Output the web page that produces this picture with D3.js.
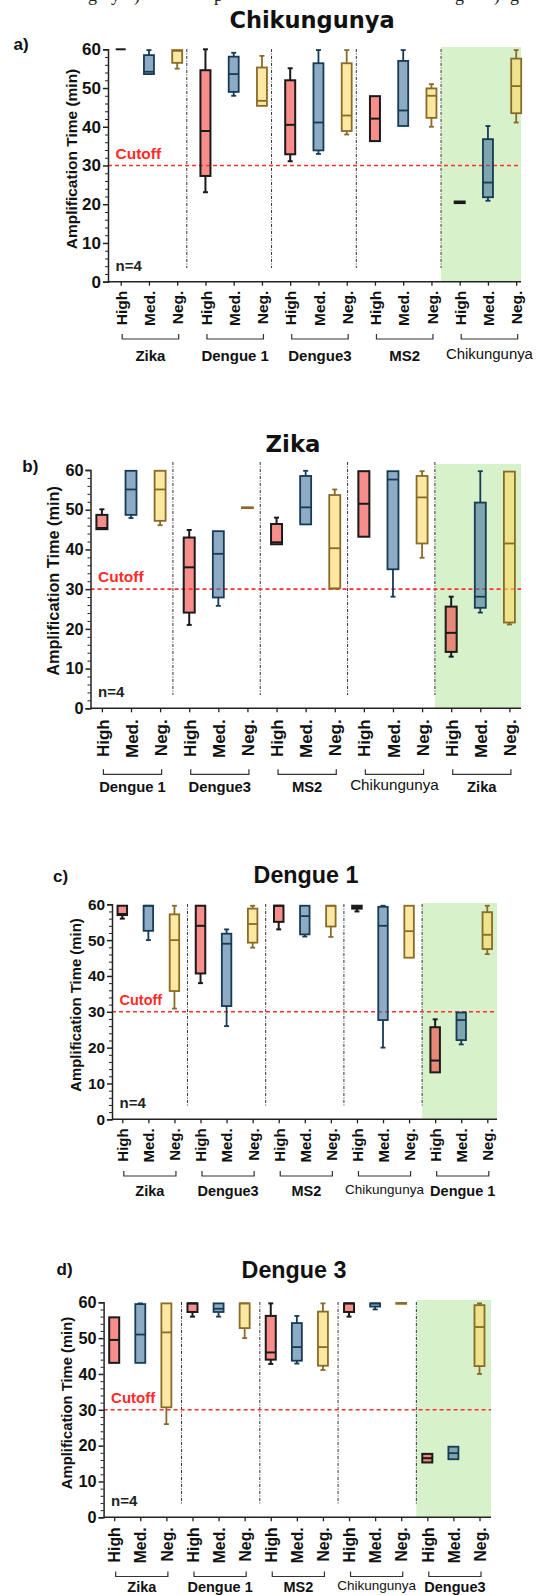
<!DOCTYPE html>
<html><head><meta charset="utf-8">
<script src="https://cdn.jsdelivr.net/npm/d3@7"></script>
<style>body{margin:0;background:#fff} svg{display:block}</style>
</head><body><svg id="c" width="538" height="1595"></svg>
<script>
// ---------- DATA ----------
const levels = ["High", "Med.", "Neg."];
const yTicks = [0, 10, 20, 30, 40, 50, 60];
const yMinorTicks = [2,4,6,8,12,14,16,18,22,24,26,28,32,34,36,38,42,44,46,48,52,54,56,58];
const cutoffValue = 30;
const nLabel = "n=4";
const panelTitles = ["Chikungunya", "Zika", "Dengue 1", "Dengue 3"];
const panelLetters = ["a)", "b)", "c)", "d)"];

// each box: [min, q1, median, q3, max]  (minutes)
const groupsA = ["Zika", "Dengue 1", "Dengue3", "MS2", "Chikungunya"];
const boxesA = [
  [60, 60, 60, 60, 60],
  [53.6, 53.6, 54.2, 58.5, 59.8],
  [55.0, 56.5, 59.6, 59.8, 59.8],
  [23.1, 27.3, 38.9, 54.6, 60],
  [48.0, 49.0, 53.6, 58.1, 59.1],
  [45.4, 45.4, 46.7, 55.3, 58.3],
  [31.1, 32.9, 40.5, 52.0, 55.1],
  [33.0, 33.9, 41.1, 56.4, 59.8],
  [38.0, 38.9, 42.9, 56.4, 59.8],
  [36.3, 36.3, 42.1, 47.9, 47.9],
  [40.2, 40.2, 44.2, 57.0, 59.8],
  [40.0, 42.3, 48.0, 49.9, 51.0],
  [20.3, 20.3, 20.5, 20.7, 20.7],
  [20.9, 21.8, 25.6, 36.8, 40.2],
  [41.1, 43.5, 50.5, 57.6, 59.8]
];

const groupsB = ["Dengue 1", "Dengue3", "MS2", "Chikungunya", "Zika"];
const boxesB = [
  [45.1, 45.1, 45.4, 48.7, 50.1],
  [47.9, 48.7, 55.1, 59.8, 59.8],
  [46.1, 47.2, 55.1, 59.8, 59.8],
  [21.0, 24.1, 35.5, 43.0, 44.9],
  [25.8, 27.9, 38.9, 44.6, 44.6],
  [50.4, 50.4, 50.5, 50.6, 50.6],
  [41.3, 41.3, 41.8, 46.4, 48.0],
  [46.3, 46.3, 50.6, 58.5, 59.8],
  [30.1, 30.2, 40.3, 53.7, 55.1],
  [43.2, 43.2, 51.5, 59.7, 59.7],
  [28.1, 35.0, 57.6, 59.7, 59.7],
  [37.9, 41.5, 53.1, 58.5, 59.7],
  [13.0, 14.2, 19.0, 25.6, 28.1],
  [24.1, 25.3, 28.1, 51.8, 59.7],
  [21.1, 21.6, 41.5, 59.6, 59.6]
];

const groupsC = ["Zika", "Dengue3", "MS2", "Chikungunya", "Dengue 1"];
const boxesC = [
  [56.0, 57.0, 57.3, 59.6, 59.6],
  [50.0, 52.6, 59.6, 59.6, 59.6],
  [30.9, 35.8, 50.0, 57.2, 59.6],
  [38.0, 40.7, 54.0, 59.6, 59.6],
  [26.0, 31.6, 49.0, 51.8, 53.0],
  [47.9, 49.3, 54.5, 58.8, 59.6],
  [53.0, 55.1, 59.6, 59.6, 59.6],
  [51.0, 51.6, 56.7, 59.6, 59.6],
  [50.9, 53.8, 59.6, 59.6, 59.6],
  [58.0, 58.8, 59.2, 59.6, 59.6],
  [20.0, 27.7, 54.0, 59.3, 59.6],
  [45.1, 45.1, 52.5, 59.6, 59.6],
  [13.1, 13.1, 16.4, 25.7, 27.9],
  [20.9, 22.1, 27.7, 29.8, 29.8],
  [46.1, 47.5, 51.5, 57.8, 59.6]
];

const groupsD = ["Zika", "Dengue 1", "MS2", "Chikungunya", "Dengue3"];
const boxesD = [
  [43.1, 43.1, 49.5, 55.8, 55.8],
  [43.1, 43.1, 51.0, 59.5, 59.7],
  [26.0, 30.7, 51.6, 59.7, 59.7],
  [56.0, 57.3, 59.7, 59.7, 59.7],
  [56.0, 57.3, 58.2, 59.7, 59.7],
  [50.0, 52.8, 59.7, 59.7, 59.7],
  [42.8, 44.0, 46.0, 56.2, 59.7],
  [42.9, 43.7, 47.5, 54.2, 56.2],
  [41.1, 42.3, 47.5, 57.4, 59.7],
  [56.0, 57.3, 59.7, 59.7, 59.7],
  [58.0, 58.8, 59.7, 59.7, 59.7],
  [59.6, 59.6, 59.7, 59.8, 59.8],
  [15.3, 15.3, 16.5, 17.7, 17.7],
  [16.2, 16.2, 17.9, 19.7, 19.7],
  [40.0, 42.2, 53.1, 59.2, 59.7]
];

// ---------- STYLE / LAYOUT ----------
const levelStyle = {
  "High": {fill: "#f2423f", stroke: "#1a1a1a"},
  "Med.": {fill: "#41739d", stroke: "#173a55"},
  "Neg.": {fill: "#fad860", stroke: "#8a6a28"}
};
const fillOpacity = 0.6;
const SANS = "'Liberation Sans', Arial, sans-serif";

const layout = [
  {groups: groupsA, boxes: boxesA, axisX: 108, right: 521, xFirst: 120.7, xLast: 516.2, yTop: 49.3, yBot: 281.7,
   sepFrac: 0.34, sepTop: 49, sepBot: 268, greenTop: 47,
   titleX: 312, titleY: 28, titleFont: "'DejaVu Sans', sans-serif", titleSize: 22.5,
   letterX: 13.5, letterY: 50, ylabX: 77, ylabY: 159, ylabSize: 15.5, tickSize: 17, xlabSize: 15.5, xlabOff: 9,
   bracketY: 339, groupY: 361, groupSize: 15, chikSize: 14.9, boxW: 10, cutSize: 15.5},
  {groups: groupsB, boxes: boxesB, axisX: 90.5, right: 521, xFirst: 101.9, xLast: 509.4, yTop: 470, yBot: 708.3,
   sepFrac: 0.44, sepTop: 462, sepBot: 695, greenTop: 464,
   titleX: 293, titleY: 451.7, titleFont: "'DejaVu Sans', sans-serif", titleSize: 22.8,
   letterX: 22.3, letterY: 472, ylabX: 58.5, ylabY: 581, ylabSize: 16.3, tickSize: 16.3, xlabSize: 17, xlabOff: 11,
   bracketY: 774.3, groupY: 792, groupSize: 14.8, chikSize: 15.2, boxW: 11, cutSize: 15.5},
  {groups: groupsC, boxes: boxesC, axisX: 112, right: 497, xFirst: 122.3, xLast: 487.3, yTop: 904.3, yBot: 1119.3,
   sepFrac: 0.5, sepTop: 904, sepBot: 1107, greenTop: 903,
   titleX: 306, titleY: 882.7, titleFont: SANS, titleSize: 23.3,
   letterX: 53, letterY: 882, ylabX: 80.5, ylabY: 1005, ylabSize: 14.9, tickSize: 15.4, xlabSize: 15, xlabOff: 9,
   bracketY: 1176, groupY: 1196, groupSize: 14.5, chikSize: 13.5, boxW: 9.5, cutSize: 14.5},
  {groups: groupsD, boxes: boxesD, axisX: 103.6, right: 491, xFirst: 114.2, xLast: 479.5, yTop: 1302.3, yBot: 1517.3,
   sepFrac: 0.58, sepTop: 1302, sepBot: 1505, greenTop: 1300,
   titleX: 294, titleY: 1277.7, titleFont: SANS, titleSize: 23.3,
   letterX: 56.6, letterY: 1275, ylabX: 72, ylabY: 1403, ylabSize: 14.8, tickSize: 16.3, xlabSize: 15.8, xlabOff: 10,
   bracketY: 1576.5, groupY: 1592, groupSize: 14.5, chikSize: 13.5, boxW: 10, cutSize: 15}
];

const svg = d3.select("#c");

// partial line of text cut off at the top of the image
const topText = svg.append("g").attr("font-family", "'Liberation Serif', serif").attr("font-size", 18).attr("fill", "#222");
[["g", 88], ["y", 111], [")", 134], ["p", 214], ["g", 455], [")", 494], ["g", 510]].forEach(([t, x]) =>
  topText.append("text").attr("x", x).attr("y", 0.5).text(t));

layout.forEach((L, pi) => {
  const cats = [];
  L.groups.forEach(g => levels.forEach(l => cats.push(g + "|" + l)));
  const x = d3.scalePoint().domain(cats).range([L.xFirst, L.xLast]);
  const step = x.step();
  const y = d3.scaleLinear().domain([0, 60]).range([L.yBot, L.yTop]);
  const g = svg.append("g");

  // green highlight region (last group)
  const greenX = x(cats[11]) + L.sepFrac * step;
  g.append("rect").attr("x", greenX).attr("y", L.greenTop)
    .attr("width", L.right - greenX).attr("height", L.yBot - L.greenTop)
    .attr("fill", "#d7f2cb");

  // separators
  [2, 5, 8, 11].forEach(i => {
    const sx = x(cats[i]) + L.sepFrac * step;
    g.append("line").attr("x1", sx).attr("x2", sx).attr("y1", L.sepTop).attr("y2", L.sepBot)
      .attr("stroke", "#333").attr("stroke-width", 1).attr("stroke-dasharray", "3,1.5,1,1.5");
  });

  // cutoff line
  g.append("line").attr("x1", L.axisX).attr("x2", L.right)
    .attr("y1", y(cutoffValue)).attr("y2", y(cutoffValue))
    .attr("stroke", "#ff3030").attr("stroke-width", 1.6).attr("stroke-dasharray", "4,3");
  g.append("text").attr("x", L.axisX + 7.5).attr("y", y(cutoffValue) - 7)
    .attr("font-family", SANS).attr("font-weight", "bold").attr("font-size", L.cutSize)
    .attr("fill", "#ff2a2a").text("Cutoff");

  // boxes
  const bw = L.boxW, cw = 5;
  cats.forEach((c, i) => {
    const [mn, q1, md, q3, mx] = L.boxes[i];
    const st = levelStyle[levels[i % 3]];
    const cx = x(c);
    const sw = levels[i % 3] === "High" ? 2 : 1.8;
    const bg = g.append("g").attr("stroke", st.stroke).attr("stroke-width", sw);
    if (mx > q3) {
      bg.append("line").attr("x1", cx).attr("x2", cx).attr("y1", y(mx)).attr("y2", y(q3));
      bg.append("line").attr("x1", cx - cw / 2).attr("x2", cx + cw / 2).attr("y1", y(mx)).attr("y2", y(mx));
    }
    if (mn < q1) {
      bg.append("line").attr("x1", cx).attr("x2", cx).attr("y1", y(q1)).attr("y2", y(mn));
      bg.append("line").attr("x1", cx - cw / 2).attr("x2", cx + cw / 2).attr("y1", y(mn)).attr("y2", y(mn));
    }
    bg.append("rect").attr("x", cx - bw / 2).attr("y", y(q3)).attr("width", bw)
      .attr("height", Math.max(0, y(q1) - y(q3)))
      .attr("fill", st.fill).attr("fill-opacity", fillOpacity);
    bg.append("line").attr("x1", cx - bw / 2).attr("x2", cx + bw / 2).attr("y1", y(md)).attr("y2", y(md));
  });

  // y axis
  const yAxis = d3.axisLeft(y).tickValues(yTicks).tickSize(5).tickPadding(2).tickFormat(d3.format("d"));
  const ya = g.append("g").attr("transform", `translate(${L.axisX},0)`).call(yAxis);
  ya.select(".domain").attr("stroke", "#222").attr("stroke-width", 1.5);
  ya.selectAll(".tick line").attr("stroke", "#222").attr("stroke-width", 1.5);
  ya.selectAll(".tick text").attr("font-family", SANS).attr("font-weight", "bold")
    .attr("font-size", L.tickSize).attr("fill", "#111");
  const ym = g.append("g").attr("transform", `translate(${L.axisX},0)`)
    .call(d3.axisLeft(y).tickValues(yMinorTicks).tickSize(3).tickFormat(""));
  ym.select(".domain").remove();
  ym.selectAll(".tick line").attr("stroke", "#222").attr("stroke-width", 1);

  // x axis
  const xAxis = d3.axisBottom(x).tickSize(4).tickSizeOuter(0).tickFormat((d) => d.split("|")[1]);
  const xa = g.append("g").attr("transform", `translate(0,${L.yBot})`).call(xAxis);
  xa.select(".domain").attr("d", `M${L.axisX},0H${L.right}`).attr("stroke", "#222").attr("stroke-width", 1.5);
  xa.selectAll(".tick line").attr("stroke", "#222").attr("stroke-width", 1.3);
  xa.selectAll(".tick text")
    .attr("font-family", SANS).attr("font-weight", "bold").attr("font-size", L.xlabSize).attr("fill", "#111")
    .attr("transform", "rotate(-90)").attr("text-anchor", "end")
    .attr("x", -L.xlabOff).attr("y", 0).attr("dy", "0.36em");

  // group brackets & labels
  L.groups.forEach((gr, gi) => {
    const x1 = x(cats[gi * 3]) + 1.5, x2 = x(cats[gi * 3 + 2]) + 1.5;
    g.append("path").attr("d", `M${x1},${L.bracketY - 5}V${L.bracketY}H${x2}V${L.bracketY - 5}`)
      .attr("fill", "none").attr("stroke", "#333").attr("stroke-width", 1.2);
    const isChik = gr === "Chikungunya";
    g.append("text").attr("x", (x1 + x2) / 2).attr("y", L.groupY - (isChik ? 2 : 0))
      .attr("text-anchor", "middle").attr("font-family", SANS)
      .attr("font-weight", isChik ? "normal" : "bold")
      .attr("font-size", isChik ? L.chikSize : L.groupSize).attr("fill", "#111").text(gr);
  });

  // n label
  g.append("text").attr("x", L.axisX + 7.5).attr("y", L.yBot - 11)
    .attr("font-family", SANS).attr("font-weight", "bold").attr("font-size", 15).attr("fill", "#222").text(nLabel);

  // y label
  g.append("text").attr("transform", `translate(${L.ylabX},${L.ylabY}) rotate(-90)`)
    .attr("text-anchor", "middle").attr("font-family", SANS).attr("font-weight", "bold")
    .attr("font-size", L.ylabSize).attr("fill", "#111").text("Amplification Time (min)");

  // title and panel letter
  g.append("text").attr("x", L.titleX).attr("y", L.titleY).attr("text-anchor", "middle")
    .attr("font-family", L.titleFont).attr("font-weight", "bold").attr("font-size", L.titleSize)
    .attr("fill", "#111").text(panelTitles[pi]);
  g.append("text").attr("x", L.letterX).attr("y", L.letterY)
    .attr("font-family", SANS).attr("font-weight", "bold").attr("font-size", 17)
    .attr("fill", "#111").text(panelLetters[pi]);
});
</script>
</body></html>
